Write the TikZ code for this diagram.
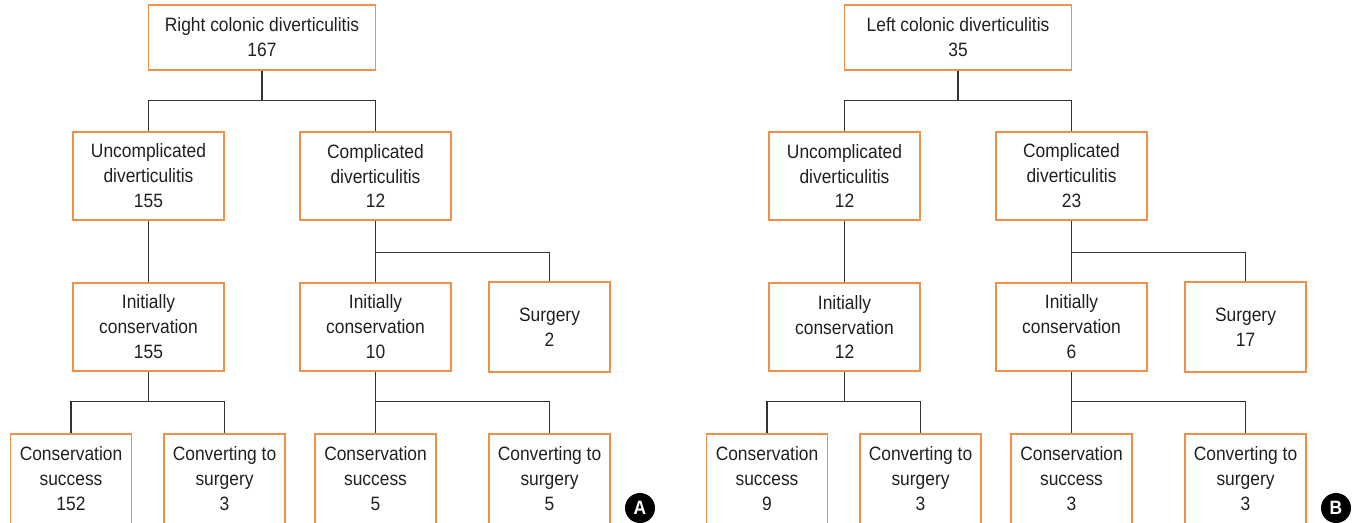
\documentclass[tikz,border=0pt]{standalone}
\usepackage{fontspec}
\setmainfont[FakeStretch=0.9]{Liberation Sans}
\definecolor{boxorange}{HTML}{F2904A}
\definecolor{linegray}{HTML}{333333}
\definecolor{txtgray}{HTML}{231F20}
\tikzset{
  cbox/.style={draw=boxorange,line width=0.7pt,align=center,text=txtgray,inner sep=2pt,
    font=\fontsize{11}{14.2}\selectfont},
  topbox/.style={cbox,minimum width=4.54cm,minimum height=1.3cm},
  midbox/.style={cbox,minimum width=3.02cm,minimum height=1.76cm},
  smallbox/.style={cbox,minimum width=2.42cm,minimum height=1.8cm},
  link/.style={draw=linegray,line width=0.6pt},
  panel/.style={circle,fill=black,text=white,inner sep=0pt,minimum size=0.6cm,
    font=\fontsize{11}{11}\selectfont\bfseries}
}
\begin{document}
\begin{tikzpicture}[x=0.02cm,y=-0.02cm]
 \useasboundingbox (0,0) rectangle (1354,522);
 \clip (0,0) rectangle (1354,522);
 % right colon
 \node[topbox] (rtop) at (262,37.5) {Right colonic diverticulitis\\167};
 \node[midbox] (runc) at (148.5,176) {Uncomplicated\\diverticulitis\\155};
 \node[midbox] (rcom) at (375.5,176) {Complicated\\diverticulitis\\12};
 \node[midbox] (runcinit) at (148.5,327) {Initially\\conservation\\155};
 \node[midbox] (rcominit) at (375.5,327) {Initially\\conservation\\10};
 \node[smallbox] (rsurg) at (549.5,327) {Surgery\\2};
 \node[smallbox] (runcok) at (71,479) {Conservation\\success\\152};
 \node[smallbox] (runcconv) at (224.5,479) {Converting to\\surgery\\3};
 \node[smallbox] (rcomok) at (375.5,479) {Conservation\\success\\5};
 \node[smallbox] (rcomconv) at (549.5,479) {Converting to\\surgery\\5};
 \node[panel] (pa) at (640,508) {A};
 \draw[link] (rtop.south) -- ++(0,30) coordinate (ra) (runc.north) |- (ra) -| (rcom.north);
 \draw[link] (runc) -- (runcinit);
 \draw[link] (rcom) -- (rcominit);
 \draw[link] (rcom.south) -- ++(0,32) -| (rsurg.north);
 \draw[link] (runcinit.south) -- ++(0,30) coordinate (rb) (runcok.north) |- (rb) -| (runcconv.north);
 \draw[link] (rcominit) -- (rcomok);
 \draw[link] (rcominit.south) -- ++(0,30) -| (rcomconv.north);
 % left colon
 \node[topbox] (ltop) at (958,37.5) {Left colonic diverticulitis\\35};
 \node[midbox] (lunc) at (844.5,176) {Uncomplicated\\diverticulitis\\12};
 \node[midbox] (lcom) at (1071.5,176) {Complicated\\diverticulitis\\23};
 \node[midbox] (luncinit) at (844.5,327) {Initially\\conservation\\12};
 \node[midbox] (lcominit) at (1071.5,327) {Initially\\conservation\\6};
 \node[smallbox] (lsurg) at (1245.5,327) {Surgery\\17};
 \node[smallbox] (luncok) at (767,479) {Conservation\\success\\9};
 \node[smallbox] (luncconv) at (920.5,479) {Converting to\\surgery\\3};
 \node[smallbox] (lcomok) at (1071.5,479) {Conservation\\success\\3};
 \node[smallbox] (lcomconv) at (1245.5,479) {Converting to\\surgery\\3};
 \node[panel] (pb) at (1336,508) {B};
 \draw[link] (ltop.south) -- ++(0,30) coordinate (la) (lunc.north) |- (la) -| (lcom.north);
 \draw[link] (lunc) -- (luncinit);
 \draw[link] (lcom) -- (lcominit);
 \draw[link] (lcom.south) -- ++(0,32) -| (lsurg.north);
 \draw[link] (luncinit.south) -- ++(0,30) coordinate (lb) (luncok.north) |- (lb) -| (luncconv.north);
 \draw[link] (lcominit) -- (lcomok);
 \draw[link] (lcominit.south) -- ++(0,30) -| (lcomconv.north);
\end{tikzpicture}
\end{document}
